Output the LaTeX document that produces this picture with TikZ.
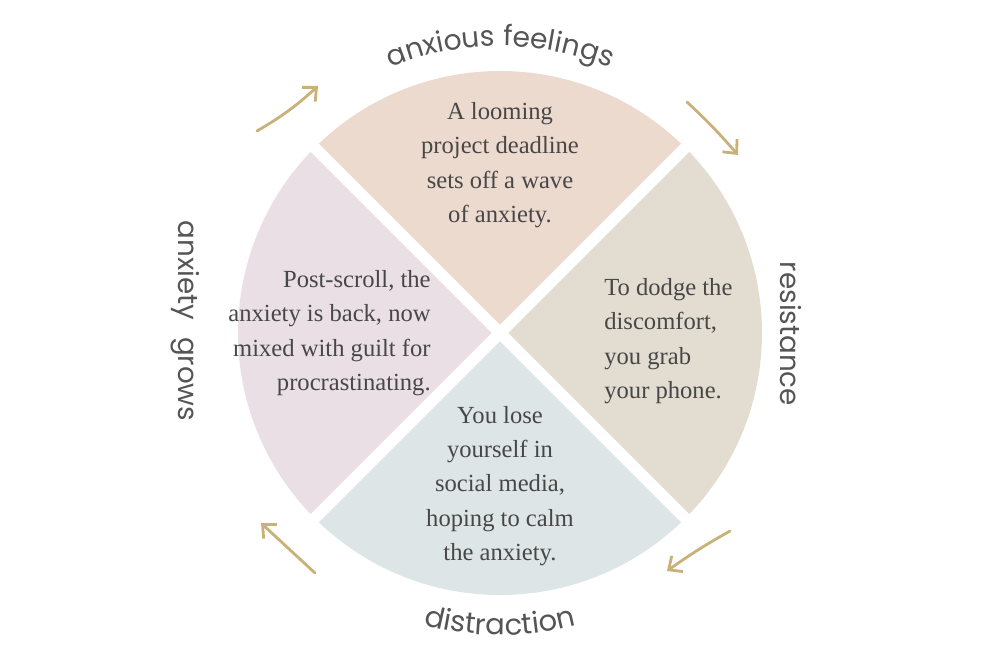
\documentclass[tikz,border=0pt]{standalone}
\usepackage{fontspec}
\setmainfont{Liberation Serif}
\newfontfamily\labelfont{Poppins}
\usetikzlibrary{arrows.meta,decorations.text}
\definecolor{peach}{HTML}{EDDACF}
\definecolor{sand}{HTML}{E3DDD1}
\definecolor{mist}{HTML}{DEE5E6}
\definecolor{lilac}{HTML}{E9DFE4}
\definecolor{gold}{HTML}{C9B27A}
\definecolor{ink}{HTML}{474747}
\definecolor{labelgrey}{HTML}{555555}
\begin{document}
\begin{tikzpicture}[x=0.02cm,y=0.02cm,
  bodytext/.style={font=\fontsize{14}{19.5}\selectfont, text=ink, inner sep=0pt},
  sidelabel/.style={font=\labelfont\fontsize{15.8}{18}\selectfont, text=labelgrey, inner sep=0pt, rotate=-90},
  looparrow/.style={draw=gold, line width=1.6pt, line cap=round, -{Straight Barb[length=6pt,width=11pt]}},
  curvelabel/.style={decorate, decoration={text along path, text align=center, text color=labelgrey, text={#1}}}]
\useasboundingbox (0,0) rectangle (1000,667);
\coordinate (c) at (500,334);
% the four parts of the cycle
\fill[peach] (c) -- +(45:262) arc (45:135:262) -- cycle;
\fill[lilac] (c) -- +(135:262) arc (135:225:262) -- cycle;
\fill[mist] (c) -- +(225:262) arc (225:315:262) -- cycle;
\fill[sand] (c) -- +(315:262) arc (315:405:262) -- cycle;
\foreach \a in {45,135} {\draw[white, line width=0.23cm] (c) ++(\a:275) -- ++({\a+180}:550);}
% texts
\node[bodytext, align=center] (feel) at (500,502) {A looming\\project deadline\\sets off a wave\\of anxiety.};
\node[bodytext, align=left, anchor=west] (phone) at (604,326) {To dodge the\\discomfort,\\you grab\\your phone.};
\node[bodytext, align=right, anchor=east] (guilt) at (431,334) {Post-scroll, the\\anxiety is back, now\\mixed with guilt for\\procrastinating.};
\node[bodytext, align=center] (scroll) at (500,181) {You lose\\yourself in\\social media,\\hoping to calm\\the anxiety.};
% labels round the circle
\path[curvelabel={|\labelfont\fontsize{16}{18}\selectfont|anxious feelings}] (c) ++(125:287) arc (125:55:287);
\path[curvelabel={|\labelfont\fontsize{16.5}{18}\selectfont|distraction}] (c) ++(235:302) arc (235:305:302);
\node[sidelabel] (resist) at (791,333) {resistance};
\node[sidelabel] (grows) at (185,346) {anxiety\hspace{0.6em}grows};
% arrows
\coordinate (a1s) at (257,536); \coordinate (a1e) at (318,581);
\coordinate (a2s) at (687,565); \coordinate (a2e) at (738,512);
\coordinate (a3s) at (730,136); \coordinate (a3e) at (667,96);
\coordinate (a4s) at (315,94); \coordinate (a4e) at (261,144);
\draw[looparrow] (a1s) to[bend right=6] (a1e);
\draw[looparrow] (a2s) to[bend left=3] (a2e);
\draw[looparrow] (a3s) to[bend right=3] (a3e);
\draw[looparrow] (a4s) to (a4e);
\end{tikzpicture}
\end{document}
